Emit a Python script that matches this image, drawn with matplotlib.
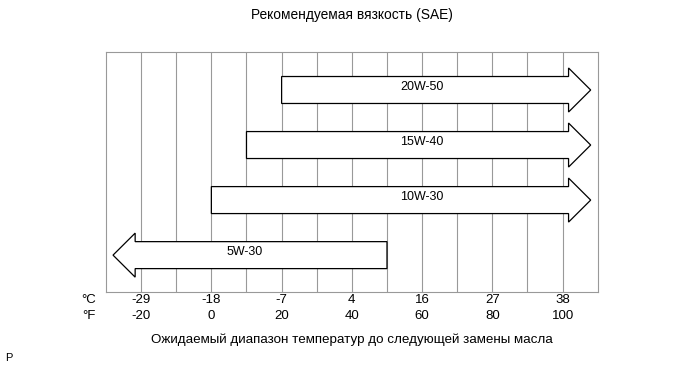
import matplotlib
matplotlib.use("Agg")
import matplotlib.pyplot as plt

plt.rcParams['font.family'] = ['Liberation Sans', 'DejaVu Sans']

# temperature scale (labels every 20 F)
temp_f = [-20, 0, 20, 40, 60, 80, 100]
temp_c = [-29, -18, -7, 4, 16, 27, 38]
grid_f = list(range(-20, 110, 10))

# viscosity grades: start/end in deg F (arrow tip at the end)
grades = ["20W-50", "15W-40", "10W-30", "5W-30"]
start_f = [20, 10, 0, 50]
end_f = [108, 108, 108, -28]
label_f = [60, 60, 60, 9.5]

fig = plt.figure(figsize=(6.91, 3.70), dpi=100)
ax = fig.add_axes([0.1534, 0.2108, 0.7116, 0.6486])
ax.set_xlim(-30, 110)
ax.set_ylim(3.67, -0.69)

for x in grid_f:
    ax.axvline(x, color="#999999", lw=0.8, zorder=1)

for i, g in enumerate(grades):
    ax.arrow(start_f[i], i, end_f[i] - start_f[i], 0, width=0.49,
             head_width=0.8, head_length=6.3, length_includes_head=True,
             fc="white", ec="black", lw=0.9, zorder=3)
    ax.text(label_f[i], i - 0.05, g, ha="center", va="center",
            fontsize=9, zorder=4)

for s in ax.spines.values():
    s.set_color("#999999")
    s.set_linewidth(0.8)
ax.set_xticks([])
ax.set_yticks([])

tr = ax.get_xaxis_transform()
for c, f in zip(temp_c, temp_f):
    ax.text(f, -0.035, str(c), transform=tr, ha="center", va="center",
            fontsize=9.5)
    ax.text(f, -0.100, str(f), transform=tr, ha="center", va="center",
            fontsize=9.5)
ax.text(-35, -0.035, "°C", transform=tr, ha="center", va="center",
        fontsize=9.5)
ax.text(-35, -0.100, "°F", transform=tr, ha="center", va="center",
        fontsize=9.5)

fig.text(352 / 691, 1 - 15 / 370, "Рекомендуемая вязкость (SAE)",
         ha="center", va="center", fontsize=9.9)
fig.text(352 / 691, 1 - 340 / 370,
         "Ожидаемый диапазон температур до следующей замены масла",
         ha="center", va="center", fontsize=9.6)
fig.text(5 / 691, 1 - 358 / 370, "P", ha="left", va="center", fontsize=8)

fig.savefig("out.png", dpi=100)
